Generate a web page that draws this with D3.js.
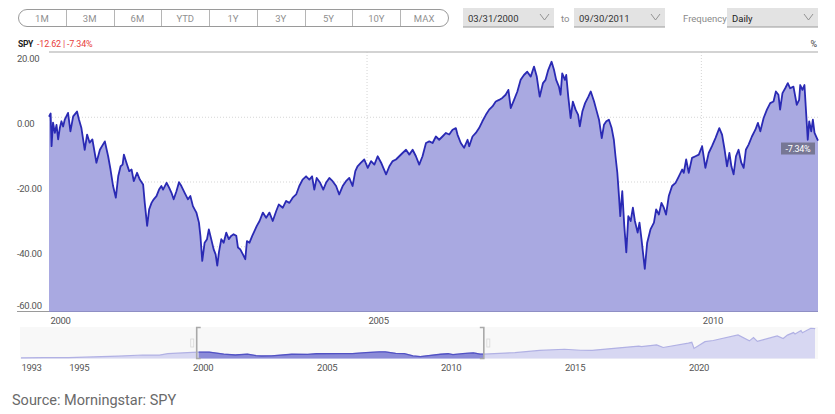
<!DOCTYPE html>
<html>
<head>
<meta charset="utf-8">
<script src="https://cdn.jsdelivr.net/npm/d3@7"></script>
<style>
  body { margin: 0; background: #fff; }
  svg text { font-family: Roboto, "Liberation Sans", sans-serif; }
</style>
</head>
<body>
<div class="wrapper"></div>
<script>
const w = 835
const h = 414

// % change of SPY since 03/31/2000
const dates = ["2000-03-31","2000-04-09","2000-04-14","2000-04-22","2000-05-02","2000-05-11","2000-05-20","2000-05-29","2000-06-07","2000-06-16","2000-06-25","2000-07-13","2000-07-26","2000-08-10","2000-08-31","2000-09-11","2000-09-24","2000-10-12","2000-10-25","2000-11-08","2000-11-23","2000-12-15",
  "2001-01-03","2001-01-30","2001-02-17","2001-03-02","2001-03-16","2001-03-31","2001-04-13","2001-04-26","2001-05-07","2001-05-14","2001-05-28","2001-06-12","2001-06-25","2001-07-07","2001-07-25","2001-08-09","2001-08-27","2001-09-05","2001-09-18","2001-09-29","2001-10-12","2001-10-24","2001-11-08","2001-11-22","2001-12-05","2001-12-14",
  "2002-01-02","2002-01-16","2002-01-29","2002-02-10","2002-02-25","2002-03-11","2002-03-24","2002-04-11","2002-04-29","2002-05-12","2002-05-26","2002-06-14","2002-06-28","2002-07-06","2002-07-16","2002-07-29","2002-08-11","2002-08-21","2002-09-03","2002-09-16","2002-09-27","2002-10-06","2002-10-15","2002-10-28","2002-11-10","2002-11-24","2002-12-08","2002-12-21",
  "2003-01-03","2003-01-18","2003-01-27","2003-02-08","2003-02-23","2003-03-08","2003-03-17","2003-03-31","2003-04-15","2003-04-27","2003-05-10","2003-05-25","2003-06-12","2003-06-30","2003-07-18","2003-08-05","2003-08-24","2003-09-07","2003-09-29","2003-10-17","2003-11-04","2003-11-22","2003-12-11","2003-12-28",
  "2004-01-15","2004-02-03","2004-02-21","2004-03-07","2004-03-19","2004-04-01","2004-04-20","2004-05-07","2004-05-22","2004-06-09","2004-06-27","2004-07-16","2004-08-02","2004-08-21","2004-09-08","2004-09-26","2004-10-14","2004-10-29","2004-11-10","2004-11-29","2004-12-17",
  "2005-01-05","2005-01-23","2005-02-10","2005-02-28","2005-03-19","2005-03-31","2005-04-15","2005-05-03","2005-05-21","2005-06-08","2005-06-26","2005-07-14","2005-08-02","2005-08-20","2005-09-07","2005-09-25","2005-10-13","2005-10-31","2005-11-19","2005-12-07","2005-12-25",
  "2006-01-12","2006-01-30","2006-02-17","2006-03-08","2006-03-26","2006-04-13","2006-05-01","2006-05-10","2006-05-28","2006-06-15","2006-07-04","2006-07-13","2006-07-31","2006-08-18","2006-09-05","2006-09-23","2006-10-12","2006-10-30","2006-11-17","2006-12-05","2006-12-23",
  "2007-01-10","2007-01-28","2007-02-12","2007-02-25","2007-03-15","2007-04-02","2007-04-20","2007-05-08","2007-05-26","2007-06-14","2007-07-02","2007-07-17","2007-08-02","2007-08-20","2007-09-03","2007-09-18","2007-10-06","2007-10-19","2007-10-31","2007-11-15","2007-11-24","2007-12-03","2007-12-18","2007-12-25",
  "2008-01-05","2008-01-18","2008-01-30","2008-02-14","2008-02-28","2008-03-08","2008-03-22","2008-04-06","2008-04-24","2008-05-07","2008-05-25","2008-06-06","2008-06-21","2008-07-06","2008-07-18","2008-07-31","2008-08-14","2008-08-29","2008-09-10","2008-09-19","2008-09-29","2008-10-08","2008-10-15","2008-10-26","2008-11-06","2008-11-17","2008-11-28","2008-12-11","2008-12-23",
  "2009-01-03","2009-01-18","2009-01-28","2009-02-08","2009-02-26","2009-03-11","2009-03-29","2009-04-17","2009-04-29","2009-05-14","2009-05-28","2009-06-10","2009-06-22","2009-07-07","2009-07-25","2009-08-13","2009-08-31","2009-09-18","2009-09-27","2009-10-10","2009-10-24","2009-11-11","2009-11-30","2009-12-18",
  "2010-01-05","2010-01-23","2010-02-10","2010-02-28","2010-03-19","2010-04-09","2010-04-24","2010-05-08","2010-05-21","2010-06-03","2010-06-14","2010-06-26","2010-07-09","2010-07-23","2010-08-07","2010-08-20","2010-09-01","2010-09-16","2010-10-04","2010-10-23","2010-11-06","2010-11-19","2010-12-07","2010-12-25",
  "2011-01-12","2011-01-30","2011-02-12","2011-02-26","2011-03-07","2011-03-20","2011-04-04","2011-04-18","2011-05-01","2011-05-19","2011-06-06","2011-06-19","2011-06-25","2011-07-07","2011-07-18","2011-07-25","2011-08-05","2011-08-13","2011-08-24","2011-09-02","2011-09-11","2011-09-30"]
const values = [0, 1, -9.1, -1.8, -5, -2.5, -7, -3.5, -1.4, -3, -0.9, 1.2, -4.5, 0.1, 1.6, -0.9, -3.5, -10.2, -5.5, -8, -7, -14.2,
  -10.2, -7.6, -12.2, -16.3, -21.4, -25, -18.4, -15.3, -14.8, -11.7, -14.2, -16.8, -16.3, -19.9, -17.3, -19.4, -20.9, -26.6, -33.7, -28.6, -26.6, -25.5, -24.5, -22.5, -21.4, -22.5,
  -20.4, -21.9, -23.5, -25.5, -23, -20.2, -21.4, -23.5, -25.5, -24.5, -27.6, -29.6, -32.7, -36.8, -44.5, -38.9, -37.8, -34.8, -37.8, -40.9, -42.5, -46, -41.9, -37.8, -38.9, -35.8, -37.8, -36.8,
  -36.3, -36.8, -40.4, -40.9, -42.5, -44, -38.4, -38.9, -36.8, -35.3, -33.7, -32.2, -29.6, -31.2, -29.6, -32.2, -29.1, -27.1, -28.1, -26, -26.6, -25, -24, -21.4,
  -19.4, -18.4, -19.4, -18.4, -22.5, -18.9, -20.4, -22.5, -20.4, -18.9, -19.9, -21.4, -24, -21.4, -19.9, -18.9, -21.4, -16.8, -15.3, -14.2, -13.2,
  -15.8, -13.7, -14.8, -12.2, -14.2, -15.8, -17.8, -15.3, -13.7, -13.2, -12.2, -11.2, -10.2, -11.7, -10.2, -12.2, -14.8, -12.2, -8.1, -7.6, -8.1,
  -6.1, -7.1, -6.1, -5, -5.5, -4, -3.5, -5.5, -8.1, -9.6, -7.1, -9.1, -6.1, -5, -3.5, -1.4, 0.6, 2.2, 3.2, 4.7, 5.2,
  5.8, 6.8, 8.3, 2.7, 5.2, 7.8, 11.4, 12.9, 13.9, 12.4, 15.5, 12.4, 6.2, 10.4, 11.4, 14.5, 17, 14.5, 11.4, 9.3, 6.8, 13.4, 11.4, 12.9,
  6.2, -0.4, 4.7, 2.2, 0.6, -3, 1.6, 4.2, 6.2, 7.8, 4.7, 2.2, -0.9, -6.6, -2.5, -1.4, -0.9, -3.5, -7.1, -12.2, -17.3, -24.5, -30.7, -23, -33.7, -41.9, -30.7, -32.2, -28.1,
  -32.2, -35.8, -32.7, -37.8, -47, -38.9, -34.8, -32.7, -28.6, -30.2, -26.6, -28.1, -30.2, -24.5, -21.4, -20.4, -18.4, -16.3, -17.3, -13.2, -17.3, -12.7, -12.2, -11.7,
  -9.1, -15.8, -11.2, -9.1, -6.6, -3.5, -5.5, -10.2, -15.3, -11.2, -15.3, -17.8, -12.2, -10.2, -14.2, -15.8, -10.2, -8.6, -6.1, -4, -1.9, -4.5, -0.4, 2.2,
  4.2, 4.7, 7.8, 6.8, 2.2, 7.3, 8.8, 10.4, 8.8, 9.3, 3.7, 5.2, 9.8, 8.3, 9.8, 3.2, -7.1, -1.4, -4.5, -0.9, -5, -7.34]

// navigator: SPY price, full history
const navDates = ["1993-01-29","1993-12-31","1994-12-30","1995-12-29","1996-12-31","1997-12-31","1998-08-31","1998-12-31","1999-12-31","2000-03-31","2000-09-01","2001-04-04","2001-09-21","2002-03-19","2002-07-23","2002-10-09","2003-03-11","2003-12-31","2004-08-12","2004-12-31","2005-12-30","2006-06-13","2006-12-29","2007-07-16","2007-10-09","2008-03-10","2008-07-15","2008-11-20","2009-03-09","2009-12-31","2010-04-23","2010-07-02","2010-12-31","2011-04-29","2011-08-08","2011-09-30","2012-12-31","2013-12-31","2014-12-31","2015-08-25","2016-02-11","2016-12-30","2017-12-29","2018-02-08","2018-09-20","2018-12-24","2019-12-31","2020-02-19","2020-03-23","2020-08-31","2020-12-31","2021-12-31","2022-06-16","2022-08-16","2022-10-12","2022-12-30","2023-07-31","2023-10-27","2023-12-29","2024-03-28","2024-04-19","2024-07-16","2024-08-05","2024-12-06","2025-01-31","2025-02-07"]
const navValues = [44, 47, 46, 61, 75, 97, 96, 123, 147, 150, 152, 113, 97, 115, 85, 78, 82, 111, 107, 121, 125, 122, 142, 155, 156, 128, 123, 80, 68, 111, 121, 103, 126, 136, 112, 113, 142, 184, 206, 187, 186, 224, 267, 257, 290, 240, 322, 338, 222, 350, 373, 477, 365, 428, 357, 383, 458, 410, 475, 523, 495, 562, 520, 605, 601, 588]

const yTicks = [20, 0, -20, -40, -60]
const xTickYears = ["2005-01-01", "2010-01-01"]
const navTickYears = ["1995-01-01", "2000-01-01", "2005-01-01", "2010-01-01", "2015-01-01", "2020-01-01"]
const buttonLabels = ["1M", "3M", "6M", "YTD", "1Y", "3Y", "5Y", "10Y", "MAX"]
const startLabel = "03/31/2000"
const endLabel = "09/30/2011"
const frequency = "Daily"
const ticker = "SPY"
const changeText = "-12.62 | -7.34%"
const lastText = "-7.34%"
const sourceText = "Source: Morningstar: SPY"

const parse = d3.timeParse("%Y-%m-%d")
const data = dates.map((d, i) => ({ date: parse(d), value: values[i] }))
const navData = navDates.map((d, i) => ({ date: parse(d), value: navValues[i] }))
const start = data[0].date
const end = data[data.length - 1].date
const smallFont = "Roboto, 'Liberation Sans', sans-serif"

const svg = d3.select(".wrapper")
  .append("svg")
  .attr("width", w)
  .attr("height", h)

// ---- header controls
const btnScale = d3.scaleBand().domain(buttonLabels).range([18, 448])
svg.append("rect")
  .attr("x", 18.5).attr("y", 9.5).attr("width", 430).attr("height", 17).attr("rx", 8.5)
  .attr("fill", "#fff").attr("stroke", "#9a9a9a")
svg.selectAll(".btnsep")
  .data(buttonLabels.slice(1))
  .enter()
  .append("line")
  .attr("x1", (d) => Math.round(btnScale(d)) + 0.5).attr("x2", (d) => Math.round(btnScale(d)) + 0.5)
  .attr("y1", 10).attr("y2", 26)
  .attr("stroke", "#b5b5b5")
svg.selectAll(".btn")
  .data(buttonLabels)
  .enter()
  .append("text")
  .attr("x", (d) => btnScale(d) + btnScale.bandwidth() / 2)
  .attr("y", 21.5)
  .attr("text-anchor", "middle")
  .attr("font-size", 9.5)
  .attr("fill", "#909090")
  .text((d) => d)

const drawSelect = (x, width, label, color) => {
  svg.append("rect").attr("x", x).attr("y", 8).attr("width", width).attr("height", 19).attr("fill", "#e3e3e3")
  svg.append("line").attr("x1", x).attr("x2", x + width).attr("y1", 27).attr("y2", 27).attr("stroke", "#9a9a9a")
  svg.append("text").attr("x", x + 5).attr("y", 21.5).attr("font-size", 9.5).attr("fill", color).text(label)
  svg.append("path")
    .attr("d", `M${x + width - 14},14 L${x + width - 9.5},20 L${x + width - 5},14`)
    .attr("fill", "none").attr("stroke", "#8a8a8a").attr("stroke-width", 0.9)
}
drawSelect(463, 91, startLabel, "#333")
svg.append("text").attr("x", 561).attr("y", 21.5).attr("font-size", 9.5).attr("fill", "#8a8a8a").text("to")
drawSelect(574, 91, endLabel, "#333")
svg.append("text").attr("x", 683).attr("y", 21.5).attr("font-size", 9.5).attr("fill", "#8a8a8a").text("Frequency")
drawSelect(727, 91, frequency, "#222")

svg.append("text").attr("x", 18).attr("y", 47).attr("font-size", 8.5).attr("font-weight", "bold").attr("letter-spacing", -0.3).attr("fill", "#222").text(ticker)
svg.append("text").attr("x", 37).attr("y", 47).attr("font-size", 9).attr("letter-spacing", -0.2).attr("fill", "#e8403c").text(changeText)
svg.append("text").attr("x", 817).attr("y", 47).attr("text-anchor", "end").attr("font-size", 9).attr("fill", "#444").text("%")

// ---- main chart
const xScale = d3.scaleTime().domain([start, end]).range([49, 818])
const yScale = d3.scaleLinear().domain([-60, 20]).range([311, 52])

svg.selectAll(".hgrid")
  .data(yTicks.slice(1, 4))
  .enter()
  .append("line")
  .attr("x1", 49).attr("x2", 818)
  .attr("y1", (d) => yScale(d) + 0.5).attr("y2", (d) => yScale(d) + 0.5)
  .attr("stroke", "#d5d5d5").attr("stroke-dasharray", "1,2")

svg.selectAll(".vgrid")
  .data(xTickYears.map(parse))
  .enter()
  .append("line")
  .attr("x1", (d) => xScale(d)).attr("x2", (d) => xScale(d))
  .attr("y1", 52).attr("y2", 311)
  .attr("stroke", "#d5d5d5").attr("stroke-dasharray", "1,2")

const area = d3.area()
  .x((d) => xScale(d.date))
  .y0(yScale(-60))
  .y1((d) => yScale(d.value))
const line = d3.line()
  .x((d) => xScale(d.date))
  .y((d) => yScale(d.value))

svg.append("path").datum(data).attr("d", area).attr("fill", "#a9a9e1")
svg.append("path").datum(data).attr("d", line)
  .attr("fill", "none").attr("stroke", "#2a2ab4").attr("stroke-width", 1.8).attr("stroke-linejoin", "round")

// top rule and bottom rule
svg.append("line").attr("x1", 49).attr("x2", 818).attr("y1", 52).attr("y2", 52).attr("stroke", "#c4c4c4").attr("stroke-width", 1.5)
svg.append("line").attr("x1", 49).attr("x2", 818).attr("y1", 311.5).attr("y2", 311.5).attr("stroke", "#8f8fc4").attr("stroke-width", 1)
svg.append("line").attr("x1", 17).attr("x2", 49).attr("y1", 311.5).attr("y2", 311.5).attr("stroke", "#9a9a9a").attr("stroke-width", 1)

// y axis labels (left aligned under each gridline)
const yAxis = d3.axisLeft(yScale).tickValues(yTicks).tickFormat((d) => d.toFixed(2)).tickSize(0)
const yG = svg.append("g").attr("transform", "translate(17, 0)").call(yAxis)
yG.select(".domain").remove()
yG.selectAll("text")
  .attr("x", 0).attr("dy", (d) => d === -60 ? "-0.25em" : "1.05em")
  .attr("text-anchor", "start")
  .attr("font-size", 9.5).attr("letter-spacing", -0.3).attr("fill", "#555")
  .style("font-family", smallFont)

// x axis labels
const xAxis = d3.axisBottom(xScale).tickValues([start].concat(xTickYears.map(parse))).tickFormat(d3.timeFormat("%Y")).tickSize(0)
const xG = svg.append("g").attr("transform", "translate(0, 312)").call(xAxis)
xG.select(".domain").remove()
xG.selectAll("text")
  .attr("x", 1).attr("dy", "0.95em")
  .attr("text-anchor", "start")
  .attr("font-size", 9.5).attr("letter-spacing", -0.3).attr("fill", "#555")
  .style("font-family", smallFont)

// last value marker
const last = data[data.length - 1]
svg.append("rect")
  .attr("x", xScale(last.date) - 37).attr("y", yScale(last.value) + 2)
  .attr("width", 34).attr("height", 12)
  .attr("fill", "#6e6e86").attr("opacity", 0.85)
svg.append("text")
  .attr("x", xScale(last.date) - 20).attr("y", yScale(last.value) + 11.5)
  .attr("text-anchor", "middle").attr("font-size", 9).attr("letter-spacing", -0.3).attr("fill", "#fff")
  .text(lastText)

// ---- navigator
const navX = d3.scaleTime().domain([navData[0].date, navData[navData.length - 1].date]).range([21, 815])
const navY = d3.scaleLinear().domain([40, 610]).range([358, 328])

svg.append("rect").attr("x", 20).attr("y", 327).attr("width", 798).attr("height", 32).attr("fill", "#f8f8f8")

const navArea = d3.area().x((d) => navX(d.date)).y0(358.5).y1((d) => navY(d.value))
const navLine = d3.line().x((d) => navX(d.date)).y((d) => navY(d.value))

svg.append("path").datum(navData).attr("d", navArea).attr("fill", "#d7d7f2")
svg.append("path").datum(navData).attr("d", navLine).attr("fill", "none").attr("stroke", "#b1b1e4").attr("stroke-width", 1.2)

svg.append("clipPath").attr("id", "sel")
  .append("rect")
  .attr("x", navX(start)).attr("y", 320)
  .attr("width", navX(end) - navX(start)).attr("height", 45)
svg.append("path").datum(navData).attr("d", navArea).attr("fill", "#8b8bd8").attr("clip-path", "url(#sel)")
svg.append("path").datum(navData).attr("d", navLine).attr("fill", "none").attr("stroke", "#5252c4").attr("stroke-width", 1.3).attr("clip-path", "url(#sel)")

// handles
const drawHandle = (x, dir) => {
  svg.append("path")
    .attr("d", `M${x + 4 * dir},327.5 L${x},327.5 L${x},358.5 L${x + 4 * dir},358.5`)
    .attr("fill", "none").attr("stroke", "#a9a9a9").attr("stroke-width", 1.6)
  svg.append("rect")
    .attr("x", x - (dir > 0 ? 6 : -3)).attr("y", 339).attr("width", 3).attr("height", 8)
    .attr("fill", "none").attr("stroke", "#d8d8d8").attr("stroke-width", 0.8)
}
drawHandle(navX(start) - 2, 1)
drawHandle(navX(end), -1)

const navAxis = d3.axisBottom(navX)
  .tickValues([navData[0].date].concat(navTickYears.map(parse)))
  .tickFormat(d3.timeFormat("%Y")).tickSize(0)
const navG = svg.append("g").attr("transform", "translate(0, 359)").call(navAxis)
navG.select(".domain").remove()
navG.selectAll("text")
  .attr("x", 0).attr("dy", "0.95em")
  .attr("text-anchor", "start")
  .attr("font-size", 9.5).attr("letter-spacing", -0.3).attr("fill", "#555")
  .style("font-family", smallFont)

// ---- source
svg.append("text")
  .attr("x", 12).attr("y", 405)
  .attr("font-size", 14.5).attr("fill", "#6a6a6a")
  .style("font-family", "Roboto, 'Open Sans', sans-serif")
  .text(sourceText)
</script>
</body>
</html>
